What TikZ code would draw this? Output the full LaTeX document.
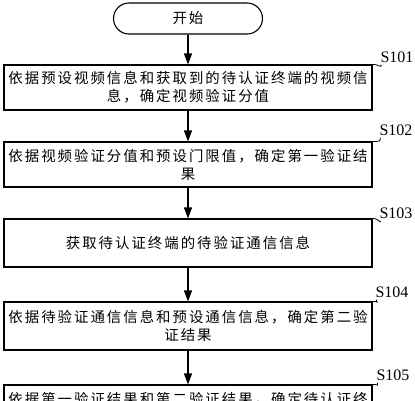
\documentclass[tikz,border=0pt]{standalone}
\usepackage{fontspec}
\setmainfont{Liberation Serif}
\newfontfamily\cjk[LetterSpace=14]{Noto Sans CJK SC}
\usetikzlibrary{arrows.meta,shapes.misc}
\begin{document}
\begin{tikzpicture}[x=1pt,y=-1pt,
  stepbox/.style={draw,line width=1.1pt,minimum width=368pt,inner sep=0pt,
    text width=366pt,align=center,font=\cjk\fontsize{14.4}{18}\selectfont},
  startbox/.style={draw,line width=1.1pt,rounded rectangle,minimum width=149pt,
    minimum height=31pt,inner sep=0pt,font=\cjk\fontsize{14.4}{18}\selectfont},
  flow/.style={line width=1.1pt,-{Triangle[length=11pt,width=8pt]}},
  lead/.style={line width=0.8pt},
  steplabel/.style={font=\fontsize{16}{18}\selectfont,inner sep=0pt}]
\useasboundingbox (0,0) rectangle (415,400);
\clip (0,0) rectangle (415,400);
\node[startbox] (start) at (188,18.5) {开始};
\node[stepbox,minimum height=45pt] (s1) at (188,87.5) {依据预设视频信息和获取到的待认证终端的视频信\\息，确定视频验证分值};
\node[stepbox,minimum height=45pt] (s2) at (188,164.5) {依据视频验证分值和预设门限值，确定第一验证结\\果};
\node[stepbox,minimum height=48pt] (s3) at (188,243) {获取待认证终端的待验证通信信息};
\node[stepbox,minimum height=48pt] (s4) at (188,326) {依据待验证通信信息和预设通信信息，确定第二验\\证结果};
\node[stepbox,minimum height=48pt,text depth=22pt] (s5) at (188,409) {依据第一验证结果和第二验证结果，确定待认证终};
\draw[flow] (start.south) -- (start.south |- s1.north);
\draw[flow] (s1.south -| start.south) -- (start.south |- s2.north);
\draw[flow] (s2.south -| start.south) -- (start.south |- s3.north);
\draw[flow] (s3.south -| start.south) -- (start.south |- s4.north);
\draw[flow] (s4.south -| start.south) -- (start.south |- s5.north);
\node[steplabel] (l1) at (397,57) {S101};
\node[steplabel] (l2) at (396,130) {S102};
\node[steplabel] (l3) at (396,213) {S103};
\node[steplabel] (l4) at (392,292) {S104};
\node[steplabel] (l5) at (393,375) {S105};
\foreach \b/\l in {s1/l1,s2/l2,s3/l3,s4/l4,s5/l5}{
  \draw[lead] (\b.north east) .. controls +(7,0) and +(0,4) .. ([xshift=1pt,yshift=-2pt]\l.south west);
}
\end{tikzpicture}
\end{document}
